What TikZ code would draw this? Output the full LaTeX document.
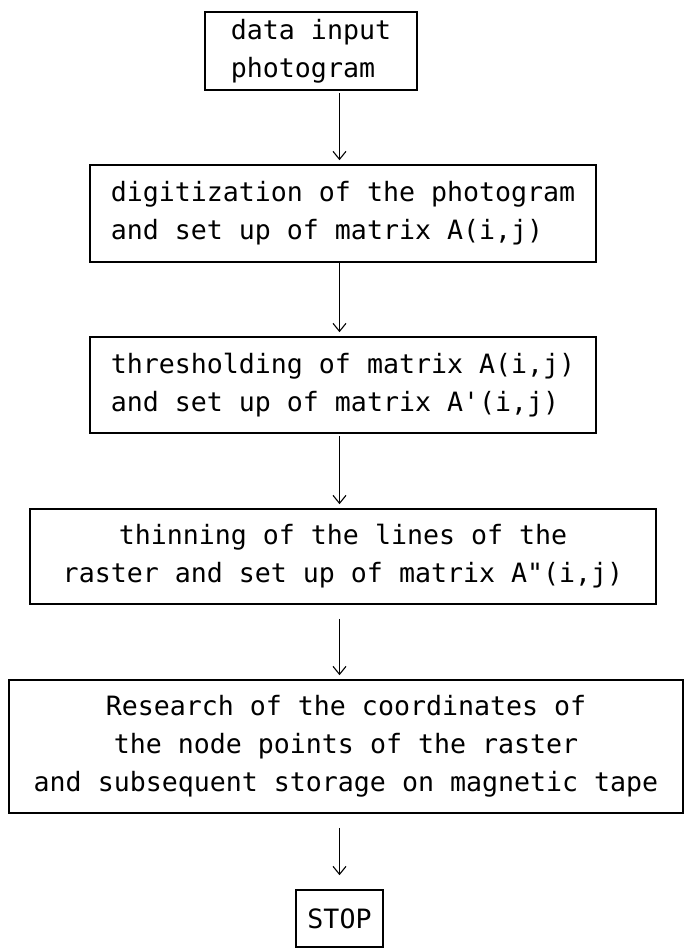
\documentclass[tikz,border=0pt]{standalone}
\usepackage{fontspec}
\newfontfamily\typefont{DejaVu Sans Mono}
\usetikzlibrary{arrows.meta, positioning, calc}

\begin{document}
\begin{tikzpicture}[
      x=1pt, y=-1pt,
      box/.style={draw, line width=1.6pt, inner sep=0pt,
                  font=\typefont\fontsize{26.6}{38}\selectfont},
      arr/.style={-{Straight Barb[length=8pt, width=13pt]}, line width=1.1pt}
    ]
    \useasboundingbox (0,0) rectangle (684,952);

    % --- Boxes ---
    \node[box, align=left, minimum width=212pt, minimum height=78pt] (input) at (311,51)
      {data input\\ photogram};
    \node[box, align=left, minimum width=506pt, minimum height=97pt] (digit) at (343,213.5)
      {digitization of the photogram\\and set up of matrix A(i,j)};
    \node[box, align=left, minimum width=506pt, minimum height=96pt] (thresh) at (343,385)
      {thresholding of matrix A(i,j)\\and set up of matrix A\textquotesingle(i,j)};
    \node[box, align=center, minimum width=626pt, minimum height=95pt] (thin) at (343,556.5)
      {thinning of the lines of the\\raster and set up of matrix A\textquotedbl(i,j)};
    \node[box, align=center, minimum width=674pt, minimum height=133pt] (research) at (346,746.5)
      {Research of the coordinates of\\the node points of the raster\\and subsequent storage on magnetic tape};
    \node[box, minimum width=87pt, minimum height=57pt] (stop) at (339.5,918.5) {STOP};

    % --- Arrows ---
    \draw[arr, shorten <=2pt, shorten >=4pt] (input.south -| stop.north) -- (digit.north -| stop.north);
    \draw[arr, shorten >=4pt] (digit.south -| stop.north) -- (thresh.north -| stop.north);
    \draw[arr, shorten <=2pt, shorten >=4pt] (thresh.south -| stop.north) -- (thin.north -| stop.north);
    \draw[arr, shorten <=14pt, shorten >=4pt] (thin.south -| stop.north) -- (research.north -| stop.north);
    \draw[arr, shorten <=14pt, shorten >=14pt] (research.south -| stop.north) -- (stop.north);

  \end{tikzpicture}
\end{document}
